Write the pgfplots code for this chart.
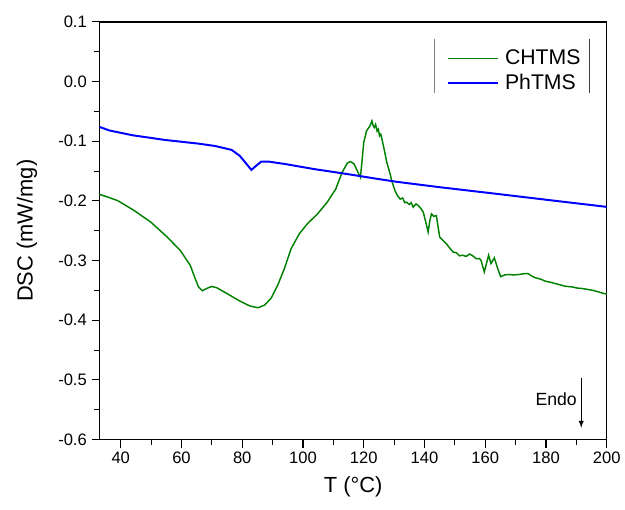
\documentclass[border=0pt]{standalone}
\usepackage{fontspec}
\setmainfont{Liberation Sans}
\usepackage{pgfplots}
\pgfplotsset{compat=1.18}
\definecolor{chtms}{RGB}{0,128,0}
\definecolor{phtms}{RGB}{0,0,255}
\begin{document}
\begin{tikzpicture}
\begin{axis}[
    scale only axis,
    width=382.5pt, height=315pt,
    xmin=33, xmax=200,
    ymin=-0.6, ymax=0.1,
    xtick={40,60,...,200},
    ytick={-0.6,-0.5,...,0.1},
    minor x tick num=1,
    minor y tick num=1,
    xtick pos=lower, ytick pos=left,
    tick align=outside,
    major tick length=6pt, minor tick length=3.75pt,
    axis line style={line width=1pt},
    every tick/.style={line width=0.8pt, black},
    /pgf/number format/assume math mode=true,
    ticklabel style={font=\fontsize{12.5}{14}\selectfont},
    yticklabel style={/pgf/number format/fixed, /pgf/number format/precision=1,
        /pgf/number format/fixed zerofill},
    xlabel={T (°C)}, ylabel={DSC (mW/mg)},
    label style={font=\fontsize{16.5}{18}\selectfont},
    xlabel shift=3pt, ylabel shift=9pt,
    legend style={draw=none, fill=none, at={(rel axis cs:0.684,0.94)}, anchor=north west,
        inner sep=0pt, row sep=1.5pt, font=\fontsize{16}{18}\selectfont,
        /tikz/every odd column/.append style={column sep=2.5pt}},
    legend image code/.code={\draw[#1] (0pt,0pt) -- (38pt,0pt);},
    legend cell align=left,
]
\addplot[color=chtms, line width=1.1pt] coordinates {
(33.0,-0.189)(36.0,-0.194)(39.0,-0.1995)(44.4,-0.216)(49.9,-0.2355)(55.3,-0.2605)
(59.6,-0.283)(62.9,-0.308)(64.5,-0.330)(65.6,-0.344)(66.9,-0.3505)(68.3,-0.3467)
(70.0,-0.3433)(71.6,-0.3455)(74.9,-0.355)(79.2,-0.3678)(82.5,-0.376)(85.2,-0.379)
(87.4,-0.3745)(89.5,-0.363)(91.7,-0.341)(93.9,-0.313)(96.1,-0.280)(98.8,-0.255)
(101.5,-0.238)(104.8,-0.2217)(108.0,-0.202)(110.8,-0.180)(112.9,-0.152)(114.6,-0.1367)
(115.6,-0.134)(116.8,-0.138)(118.1,-0.152)(118.9,-0.1605)(119.5,-0.130)(120.0,-0.102)
(120.5,-0.092)(120.9,-0.083)(121.4,-0.079)(122.0,-0.0745)(122.4,-0.070)(122.7,-0.066)
(123.1,-0.074)(123.5,-0.077)(123.9,-0.072)(124.4,-0.083)(124.8,-0.080)(125.2,-0.091)
(125.6,-0.088)(126.0,-0.0967)(126.7,-0.113)(127.6,-0.1355)(128.7,-0.155)(129.2,-0.166)
(130.3,-0.183)(131.2,-0.192)(132.0,-0.197)(132.8,-0.195)(133.5,-0.203)(134.1,-0.202)
(135.0,-0.206)(135.6,-0.203)(136.3,-0.2105)(137.2,-0.205)(138.0,-0.208)(139.0,-0.214)
(139.6,-0.219)(140.4,-0.235)(141.2,-0.252)(141.8,-0.232)(142.3,-0.2217)(143.1,-0.226)
(143.9,-0.2245)(145.0,-0.2605)(146.1,-0.266)(147.2,-0.2717)(148.3,-0.279)(149.4,-0.2855)
(150.5,-0.287)(151.5,-0.292)(152.6,-0.291)(153.7,-0.293)(154.8,-0.289)(155.9,-0.292)
(157.0,-0.2967)(158.1,-0.2967)(158.6,-0.2995)(159.7,-0.319)(160.4,-0.305)(161.1,-0.291)
(161.9,-0.305)(163.0,-0.2955)(164.1,-0.3133)(165.1,-0.327)(166.4,-0.324)(167.8,-0.3233)
(169.5,-0.324)(171.1,-0.3233)(172.6,-0.322)(174.1,-0.3217)(175.3,-0.326)(176.6,-0.329)
(178.2,-0.331)(179.8,-0.3345)(182.0,-0.337)(184.2,-0.340)(186.3,-0.343)(188.5,-0.344)
(190.2,-0.346)(191.8,-0.3467)(193.4,-0.348)(195.1,-0.3495)(197.0,-0.352)(198.9,-0.355)(200.0,-0.356)
};
\addplot[color=phtms, line width=1.5pt] coordinates {
(33.0,-0.076)(36.3,-0.082)(43.9,-0.090)(54.8,-0.098)(65.6,-0.104)(71.1,-0.108)
(76.5,-0.1145)(79.2,-0.1245)(81.4,-0.138)(83.0,-0.148)(84.6,-0.141)(86.3,-0.134)
(88.5,-0.134)(93.9,-0.138)(103.7,-0.1467)(114.6,-0.155)(124.4,-0.163)(130.9,-0.168)
(145.0,-0.177)(163.5,-0.188)(180.0,-0.198)(200.0,-0.210)
};
\legend{CHTMS, PhTMS}
\draw[gray, line width=0.8pt] (axis cs:143.2,0.0717) -- (axis cs:143.2,-0.020);
\draw[darkgray, line width=0.8pt] (axis cs:194.2,0.0717) -- (axis cs:194.2,-0.020);
\draw[-latex, line width=0.8pt] (axis cs:191.6,-0.4967) -- (axis cs:191.6,-0.580);
\node[anchor=base east, inner sep=0pt, font=\fontsize{13.3}{15}\selectfont]
    at (axis cs:190.2,-0.542) {Endo};
\end{axis}
\path ([xshift=-75pt,yshift=-52.5pt]current axis.south west)
    rectangle ([xshift=11.25pt,yshift=16.5pt]current axis.north east);
\end{tikzpicture}
\end{document}
